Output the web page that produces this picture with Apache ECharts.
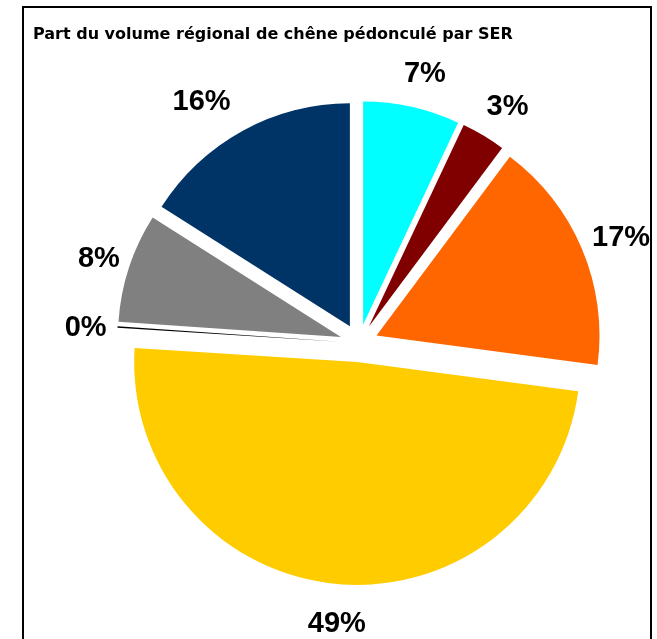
<!DOCTYPE html>
<html>
<head>
<meta charset="utf-8">
<script src="https://cdn.jsdelivr.net/npm/echarts@6/dist/echarts.min.js"></script>
<style>
  html, body { margin: 0; background: #fff; }
  #chart { width: 657px; height: 639px; }
</style>
</head>
<body>
<div id="chart"></div>
<script>
// parts du volume par SER, dans le sens horaire depuis le haut
const regions = ["SER 1", "SER 2", "SER 3", "SER 4", "SER 5", "SER 6", "SER 7"];
const shares = [7.0, 3.2, 16.9, 48.9, 0.1, 7.9, 16.0];
const colors = ["#00FFFF", "#800000", "#FF6600", "#FFCC00", "#000000", "#808080", "#003366"];

const chart = echarts.init(document.getElementById("chart"));

chart.setOption({
  animation: false,
  title: {
    text: "Part du volume régional de chêne pédonculé par SER",
    left: 33,
    top: 27,
    padding: 0,
    textStyle: {
      fontFamily: "DejaVu Sans",
      fontSize: 16,
      fontWeight: "bold",
      color: "#000"
    }
  },
  graphic: [{
    type: "rect",
    silent: true,
    shape: { x: 23, y: 7, width: 628, height: 700 },
    style: { fill: "none", stroke: "#000", lineWidth: 2 }
  }],
  series: [
    {
      type: "pie",
      center: [359, 343],
      radius: 223,
      startAngle: 90,
      selectedMode: "multiple",
      selectedOffset: 19,
      emphasis: { disabled: true },
      label: { show: false },
      labelLine: { show: false },
      data: shares.map((v, i) => ({
        name: regions[i],
        value: v,
        selected: true,
        itemStyle: { color: colors[i] }
      }))
    },
    {
      // anneau invisible qui porte les étiquettes
      type: "pie",
      center: [364, 346],
      radius: [258, 294],
      startAngle: 90,
      silent: true,
      itemStyle: { color: "rgba(0,0,0,0)" },
      label: {
        position: "inside",
        formatter: p => Math.round(p.percent) + "%",
        fontFamily: "Liberation Sans",
        fontWeight: "bold",
        fontSize: 29,
        color: "#000"
      },
      labelLine: { show: false },
      data: shares.map((v, i) => {
        const item = { name: regions[i], value: v };
        // l'étiquette 16% est décalée vers la gauche dans l'original
        if (i === 6) item.label = { offset: [-28, 0] };
        return item;
      })
    }
  ]
});
</script>
</body>
</html>
